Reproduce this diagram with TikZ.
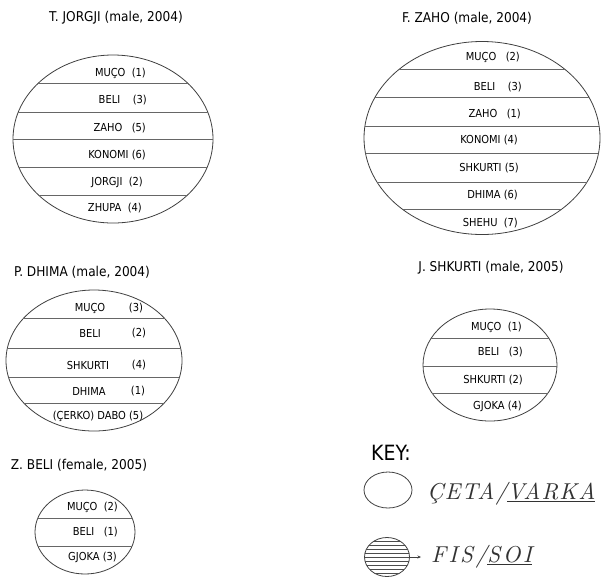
\documentclass[tikz,border=0pt]{standalone}
\usepackage{fontspec}
\setsansfont{DejaVu Sans Condensed}
\newfontfamily\keyA{lmroman10-italic.otf}[LetterSpace=5]
\newfontfamily\keyB{lmroman10-italic.otf}[LetterSpace=11]
\usetikzlibrary{shapes.geometric,arrows.meta}
\tikzset{
  title/.style={font=\sffamily\fontsize{13.5}{15}\selectfont, inner sep=0pt},
  lab/.style={font=\sffamily\fontsize{11}{12}\selectfont, inner sep=0pt, anchor=east},
  labc/.style={font=\sffamily\fontsize{11}{12}\selectfont, inner sep=0pt},
  oval/.style={ellipse, draw=black!75, line width=0.8pt, inner sep=0pt},
  chord/.style={draw=black!60, line width=0.9pt},
}
\begin{document}
\begin{tikzpicture}[x=1pt,y=-1pt]
\useasboundingbox (0,0) rectangle (601,579);
\fill[white] (0,0) rectangle (601,579);

% ---------- T. JORGJI
\node[title] (t1) at (116,18) {T. JORGJI (male, 2004)};
\node[oval, minimum width=200pt, minimum height=168pt] (e1) at (113,139) {};
\begin{scope}
\clip (113,139) ellipse [x radius=100pt, y radius=84pt];
\foreach \yy in {83,112,139,167,195} \draw[chord] (0,\yy) -- (300,\yy);
\end{scope}
\node[lab] (a1) at (146,73) {MUÇO\ \ (1)};
\node[lab] (a2) at (147,100) {BELI\ \ \ \ (3)};
\node[lab] (a3) at (146,128) {ZAHO\ \ \ (5)};
\node[lab] (a4) at (146,155) {KONOMI (6)};
\node[lab] (a5) at (143,182) {JORGJI\ \ (2)};
\node[lab] (a6) at (142,208) {ZHUPA\ \ (4)};

% ---------- F. ZAHO
\node[title] (t2) at (467,18) {F. ZAHO (male, 2004)};
\node[oval, minimum width=236pt, minimum height=193pt] (e2) at (482,138) {};
\begin{scope}
\clip (482,138) ellipse [x radius=118pt, y radius=96.5pt];
\foreach \yy in {69,97,126,153,182,209} \draw[chord] (300,\yy) -- (650,\yy);
\end{scope}
\node[lab] (b1) at (520,57) {MUÇO\ \ \ (2)};
\node[lab] (b2) at (522,87) {BELI\ \ \ \ (3)};
\node[lab] (b3) at (521,114) {ZAHO\ \ \ (1)};
\node[lab] (b4) at (518,140) {KONOMI (4)};
\node[lab] (b5) at (519,168) {SHKURTI (5)};
\node[lab] (b6) at (518,195) {DHIMA (6)};
\node[lab] (b7) at (518,223) {SHEHU\ \ (7)};

% ---------- P. DHIMA
\node[title] (t3) at (82,272) {P. DHIMA (male, 2004)};
\node[oval, minimum width=176pt, minimum height=141pt] (e3) at (94,360.5) {};
\begin{scope}
\clip (94,360.5) ellipse [x radius=88pt, y radius=70.5pt];
\foreach \yy in {318,348,377,403} \draw[chord] (0,\yy) -- (200,\yy);
\end{scope}
\node[labc] (c1) at (90,308) {MUÇO};
\node[labc] (c1n) at (136,308) {(3)};
\node[labc] (c2) at (90,333) {BELI};
\node[labc] (c2n) at (139,333) {(2)};
\node[labc] (c3) at (88,365) {SHKURTI};
\node[labc] (c3n) at (139,365) {(4)};
\node[labc] (c4) at (89,391) {DHIMA};
\node[labc] (c4n) at (138,391) {(1)};
\node[labc] (c5) at (98,416) {(ÇERKO) DABO (5)};

% ---------- J. SHKURTI
\node[title] (t4) at (491,268) {J. SHKURTI (male, 2005)};
\node[oval, minimum width=134pt, minimum height=112pt] (e4) at (490,365) {};
\begin{scope}
\clip (490,365) ellipse [x radius=67pt, y radius=56pt];
\foreach \yy in {338,366,393} \draw[chord] (400,\yy) -- (600,\yy);
\end{scope}
\node[lab] (d1) at (522,327) {MUÇO\ \ (1)};
\node[lab] (d2) at (523,352) {BELI\ \ \ (3)};
\node[lab] (d3) at (523,380) {SHKURTI (2)};
\node[lab] (d4) at (522,406) {GJOKA (4)};

% ---------- Z. BELI
\node[title] (t5) at (79,465) {Z. BELI (female, 2005)};
\node[oval, minimum width=100pt, minimum height=84pt] (e5) at (85,532) {};
\begin{scope}
\clip (85,532) ellipse [x radius=50pt, y radius=42pt];
\foreach \yy in {518,546} \draw[chord] (0,\yy) -- (200,\yy);
\end{scope}
\node[lab] (f1) at (118,507) {MUÇO\ \ (2)};
\node[lab] (f2) at (118,532) {BELI\ \ \ (1)};
\node[lab] (f3) at (117,557) {GJOKA (3)};

% ---------- KEY
\node[font=\sffamily\fontsize{21}{24}\selectfont, inner sep=0pt, anchor=west] (key) at (371,453) {KEY:};
\node[oval, minimum width=48pt, minimum height=36pt] (k1) at (388,490) {};
\node[font=\keyA\fontsize{23}{26}\selectfont, inner sep=0pt, anchor=base west, text=black!80] (k1t) at (427,499) {ÇETA/\underline{VARKA}};
\node[oval, minimum width=45pt, minimum height=39pt] (k2) at (387,557) {};
\begin{scope}
\clip (387,557) ellipse [x radius=22.5pt, y radius=19.5pt];
\foreach \yy in {541,545,549,553,557,561,565,569,573} \draw[draw=black!70, line width=0.7pt] (360,\yy) -- (420,\yy);
\end{scope}
\node[font=\keyB\fontsize{23}{26}\selectfont, inner sep=0pt, anchor=base west, text=black!80] (k2t) at (431,562) {FIS/\underline{SOI}};
\draw[-{Stealth[length=3.5pt,width=3pt]}, draw=black!75, line width=0.7pt] (k2.east) -- (421,557);
\end{tikzpicture}
\end{document}
